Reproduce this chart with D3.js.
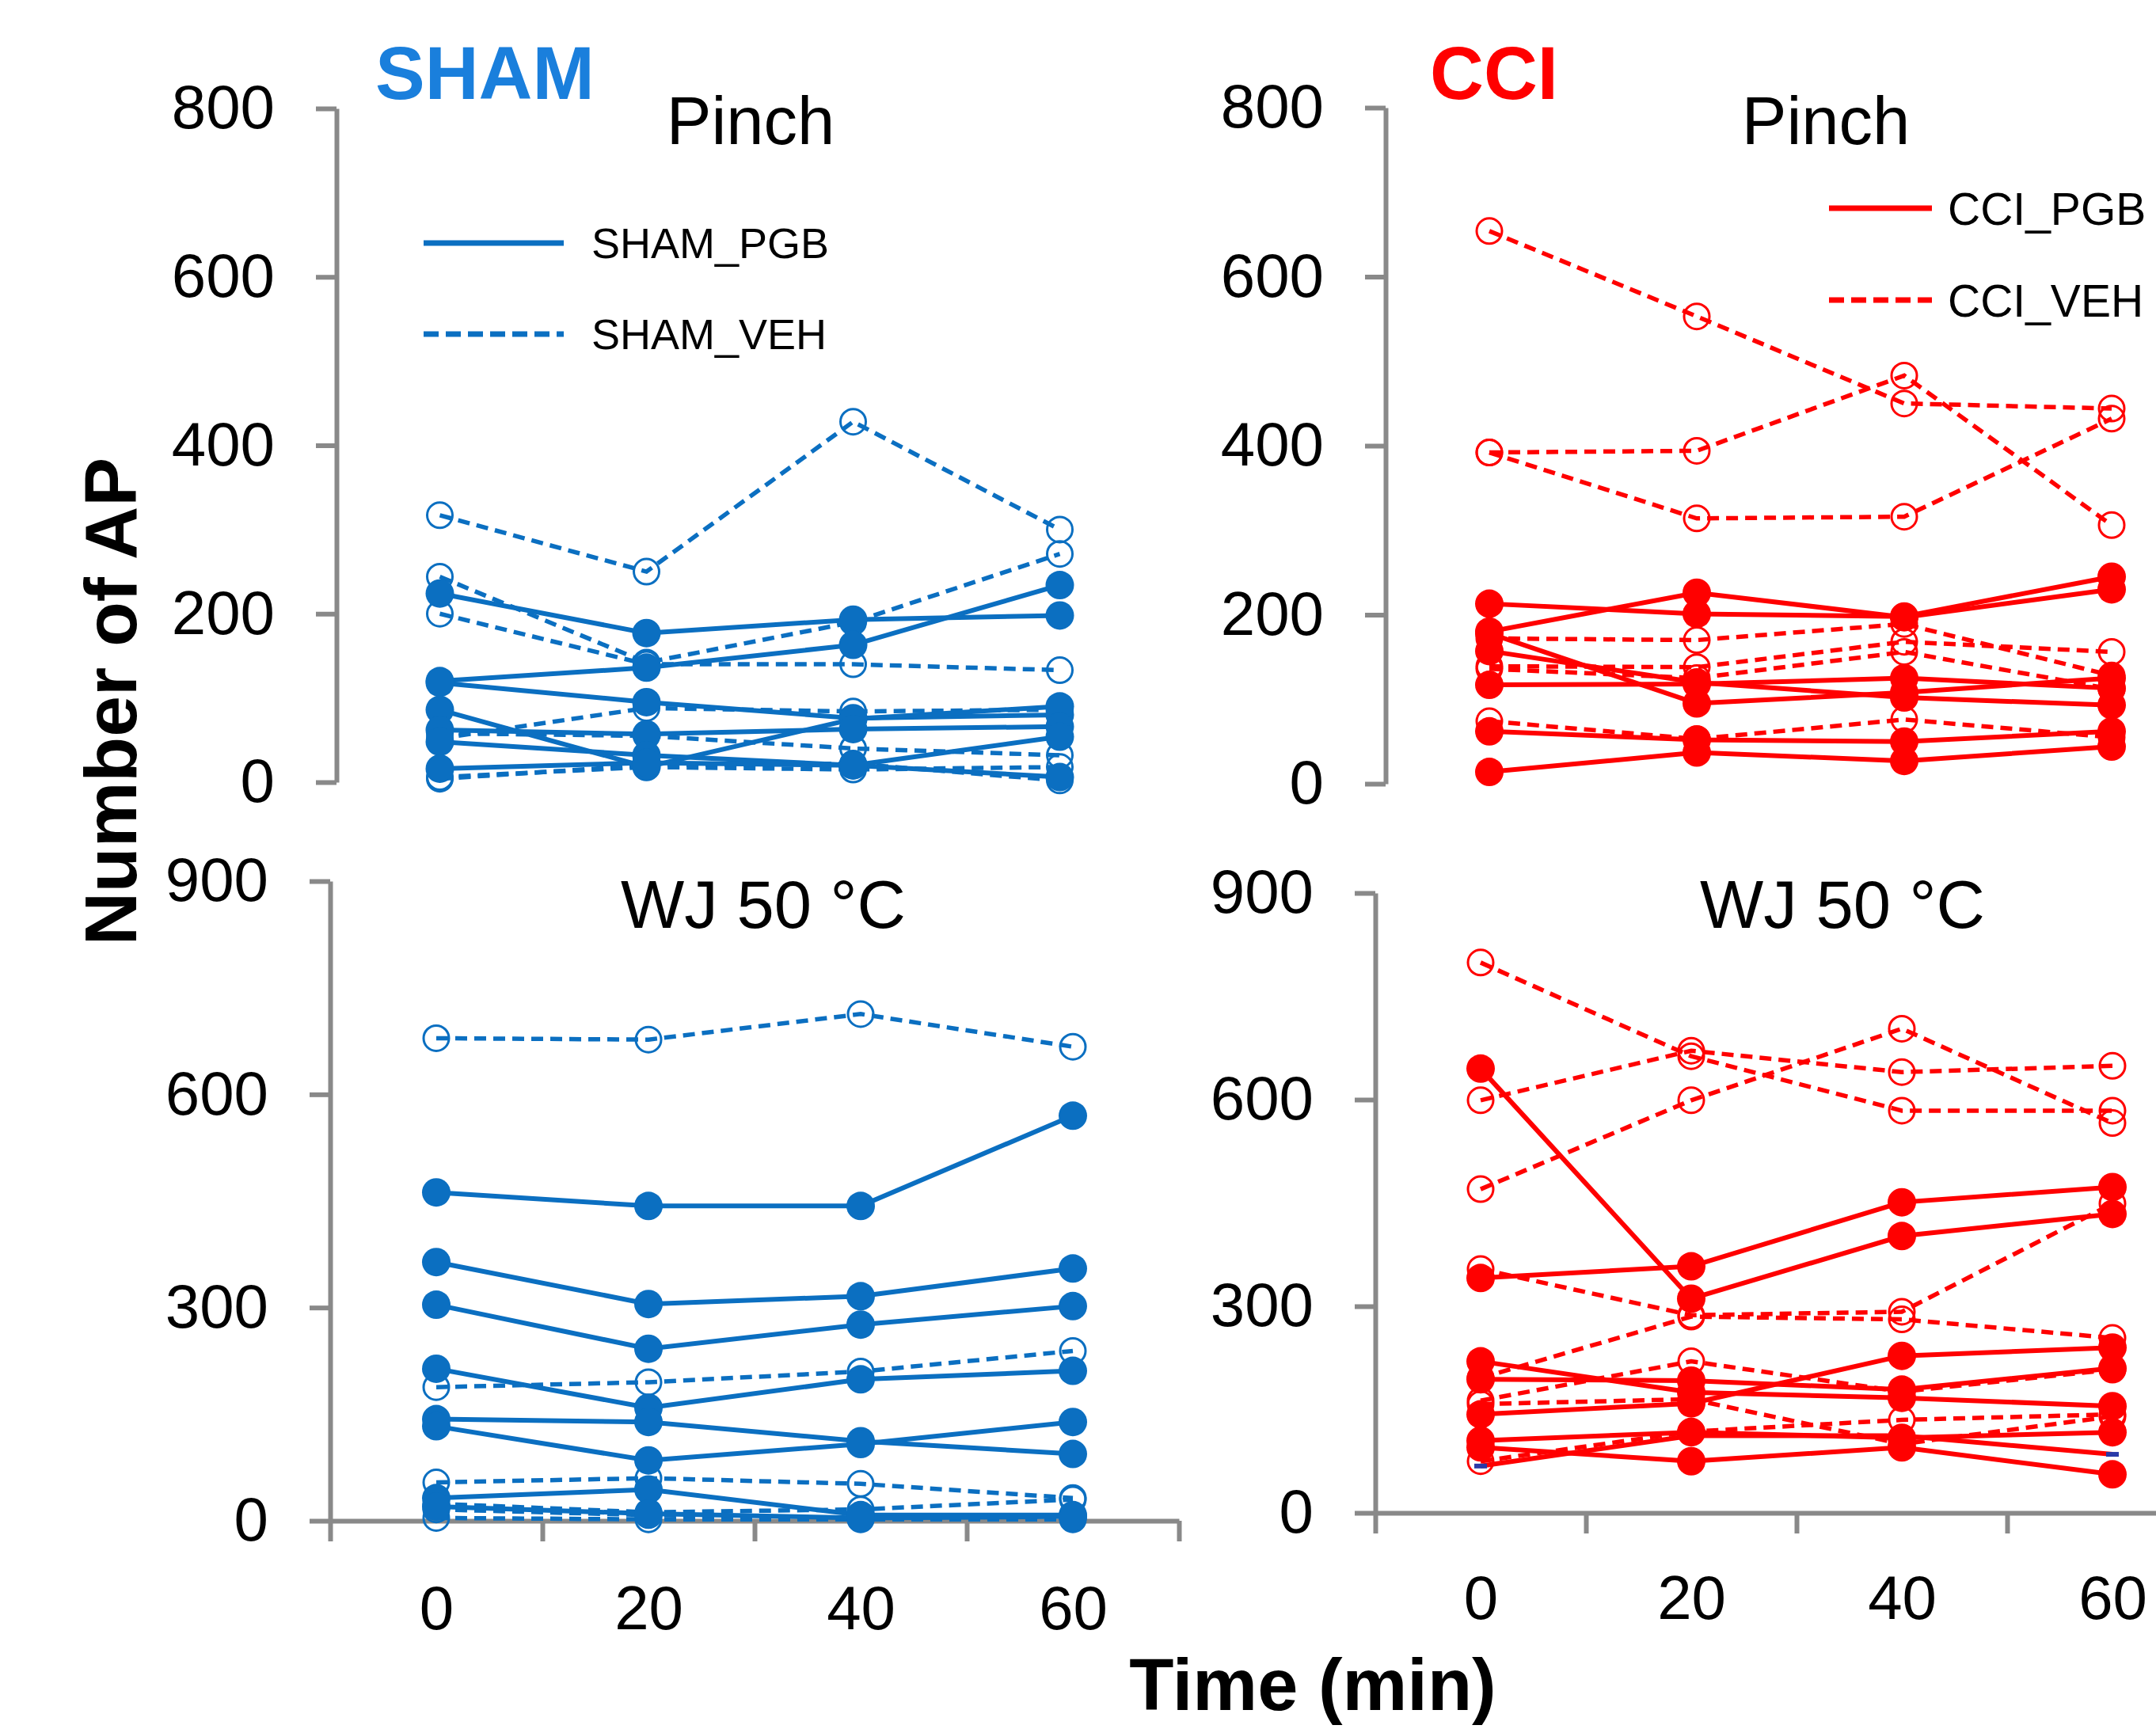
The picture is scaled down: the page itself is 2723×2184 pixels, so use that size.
<!DOCTYPE html>
<html>
<head>
<meta charset="utf-8">
<script src="https://cdn.jsdelivr.net/npm/d3@7"></script>
<style>
  body { margin: 0; background: #ffffff; }
  svg { display: block; }
</style>
</head>
<body>
<svg id="chart"></svg>
<script>
// ===========================================================
// DATA (Number of AP per time point)
// ===========================================================
const times = [0, 20, 40, 60];
const pinchTicks = [0, 200, 400, 600, 800];
const wjTicks = [0, 300, 600, 900];

const shamPinchPGB = [
    [224, 177, 193, 198],
    [120, 136, 163, 234],
    [118, 95, 76, 80],
    [86, 18, 75, 90],
    [62, 57, 63, 66],
    [48, 32, 20, 6],
    [16, 23, 20, 54]
];
const shamPinchVEH = [
    [317, 250, 428, 300],
    [244, 142, 190, 271],
    [200, 140, 140, 133],
    [52, 88, 84, 86],
    [58, 55, 40, 32],
    [6, 18, 15, 18],
    [4, 20, 22, 2]
];

const cciPinchPGB = [
    [213, 201, 198, 245],
    [180, 226, 197, 230],
    [178, 95, 108, 125],
    [157, 120, 102, 93],
    [117, 118, 125, 113],
    [62, 52, 50, 62],
    [14, 37, 27, 44]
];
const cciPinchVEH = [
    [654, 553, 450, 444],
    [392, 394, 483, 306],
    [392, 314, 316, 432],
    [172, 170, 189, 128],
    [139, 138, 168, 156],
    [136, 125, 156, 112],
    [74, 53, 76, 55]
];

const shamWjPGB = [
    [462, 443, 443, 570],
    [364, 305, 316, 355],
    [304, 242, 276, 302],
    [214, 159, 199, 211],
    [143, 139, 112, 94],
    [133, 85, 108, 139],
    [32, 44, 8, 8],
    [20, 10, 4, 6]
];
const shamWjVEH = [
    [679, 677, 713, 667],
    [188, 195, 210, 239],
    [54, 60, 52, 32],
    [24, 12, 16, 30],
    [16, 8, 4, 4],
    [4, 2, 2, 2]
];

const cciWjPGB = [
    [645, 311, 402, 434],
    [341, 358, 451, 473],
    [220, 175, 167, 155],
    [194, 192, 179, 210],
    [143, 159, 228, 240],
    [105, 117, 109, 117],
    [95, 75, 95, 56]
];
// one series in this panel has no circle markers (only tiny dark marks)
const cciWjUnmarked = [
    [68, 112, 112, 85]
];
const cciWjVEH = [
    [799, 663, 584, 584],
    [599, 671, 640, 649],
    [470, 599, 703, 566],
    [354, 287, 292, 449],
    [196, 285, 281, 254],
    [163, 220, 176, 208],
    [158, 165, 100, 140],
    [75, 118, 135, 143]
];

// ===========================================================
// STYLE
// ===========================================================
const W = 2723;
const H = 2184;
const blue = "#0b6fc1";
const titleBlue = "#1a7fdc";
const red = "#ff0000";
const axisGrey = "#898989";
const textFont = "'Liberation Sans', Arial, sans-serif";

const svg = d3.select("#chart")
    .attr("width", W)
    .attr("height", H)
    .style("background", "#ffffff");


function drawPanel(p) {
    const g = svg.append("g");

    const y = d3.scaleLinear()
        .domain([0, p.yMax])
        .range([p.yZero, p.yTop]);

    const xBand = d3.scaleBand()
        .domain(times)
        .range([p.axisX, p.axisX + 4 * p.step]);
    const xc = t => xBand(t) + xBand.bandwidth() / 2;

    // ---- y axis
    const yAxis = g.append("g")
        .attr("transform", `translate(${p.axisX},0)`)
        .call(d3.axisLeft(y).tickValues(p.ticks).tickSize(26).tickSizeOuter(0).tickPadding(52))
        .attr("font-family", textFont)
        .attr("font-size", 78);
    yAxis.select(".domain").attr("stroke", axisGrey).attr("stroke-width", 6);
    yAxis.selectAll(".tick line").attr("stroke", axisGrey).attr("stroke-width", 6);
    yAxis.selectAll(".tick text").attr("fill", "#000");

    // ---- x axis (bottom panels only)
    if (p.xAxis) {
        const xEdge = d3.scaleLinear().domain([0, 4]).range(xBand.range());
        const xAxis = g.append("g")
            .attr("transform", `translate(0,${p.yZero})`)
            .call(d3.axisBottom(xEdge).tickValues([0, 1, 2, 3, 4]).tickSize(26)
                .tickSizeOuter(0).tickFormat(""));
        xAxis.select(".domain").attr("stroke", axisGrey).attr("stroke-width", 6);
        xAxis.selectAll(".tick line").attr("stroke", axisGrey).attr("stroke-width", 6);

        const xPoint = d3.scalePoint().domain(times).range(xBand.range()).padding(0.5);
        const xLabels = g.append("g")
            .attr("transform", `translate(0,${p.yZero})`)
            .call(d3.axisBottom(xPoint).tickSize(0).tickPadding(p.labelPad))
            .attr("font-family", textFont)
            .attr("font-size", 78);
        xLabels.select(".domain").remove();
        xLabels.selectAll(".tick text").attr("fill", "#000");
    }

    const line = d3.line()
        .x((d, i) => xc(times[i]))
        .y(d => y(d));

    // ---- vehicle series (dashed, open circles)
    p.veh.forEach(series => {
        g.append("path")
            .datum(series)
            .attr("d", line)
            .attr("fill", "none")
            .attr("stroke", p.color)
            .attr("stroke-width", 5.5)
            .attr("stroke-dasharray", "15,9");
        g.selectAll(null)
            .data(series)
            .join("circle")
            .attr("cx", (d, i) => xc(times[i]))
            .attr("cy", d => y(d))
            .attr("r", 16)
            .attr("fill", "none")
            .attr("stroke", p.color)
            .attr("stroke-width", 3);
    });

    // ---- unmarked series
    (p.unmarked || []).forEach(series => {
        g.append("path")
            .datum(series)
            .attr("d", line)
            .attr("fill", "none")
            .attr("stroke", p.color)
            .attr("stroke-width", 6);
        g.selectAll(null)
            .data([series[0], series[series.length - 1]])
            .join("rect")
            .attr("x", (d, i) => xc(times[i === 0 ? 0 : times.length - 1]) - 8)
            .attr("y", d => y(d) - 3)
            .attr("width", 16)
            .attr("height", 6)
            .attr("fill", "#2a3aa8");
    });

    // ---- pregabalin series (solid, filled circles)
    p.pgb.forEach(series => {
        g.append("path")
            .datum(series)
            .attr("d", line)
            .attr("fill", "none")
            .attr("stroke", p.color)
            .attr("stroke-width", 6);
        g.selectAll(null)
            .data(series)
            .join("circle")
            .attr("cx", (d, i) => xc(times[i]))
            .attr("cy", d => y(d))
            .attr("r", 18)
            .attr("fill", p.color);
    });

    // ---- panel subtitle
    g.append("text")
        .attr("x", p.subX)
        .attr("y", p.subY)
        .attr("text-anchor", "middle")
        .attr("font-family", textFont)
        .attr("font-size", 85)
        .attr("fill", "#000")
        .text(p.subtitle);
}


function drawLegend(x0, x1, yTop, yBottom, textX, fontSize, color, labels) {
    const g = svg.append("g");
    g.append("line")
        .attr("x1", x0).attr("x2", x1)
        .attr("y1", yTop).attr("y2", yTop)
        .attr("stroke", color).attr("stroke-width", 7);
    g.append("line")
        .attr("x1", x0).attr("x2", x1)
        .attr("y1", yBottom).attr("y2", yBottom)
        .attr("stroke", color).attr("stroke-width", 7)
        .attr("stroke-dasharray", "19,9");
    g.selectAll("text")
        .data(labels)
        .join("text")
        .attr("x", textX)
        .attr("y", (d, i) => (i === 0 ? yTop : yBottom) + fontSize * 0.36)
        .attr("font-family", textFont)
        .attr("font-size", fontSize)
        .attr("fill", "#000")
        .text(d => d);
}


// ===========================================================
// PANELS
// ===========================================================
drawPanel({
    axisX: 425, step: 261, yTop: 137, yZero: 988, yMax: 800, ticks: pinchTicks,
    xAxis: false, color: blue, pgb: shamPinchPGB, veh: shamPinchVEH,
    subtitle: "Pinch", subX: 948, subY: 182
});
drawPanel({
    axisX: 1750, step: 262, yTop: 136, yZero: 990, yMax: 800, ticks: pinchTicks,
    xAxis: false, color: red, pgb: cciPinchPGB, veh: cciPinchVEH,
    subtitle: "Pinch", subX: 2306, subY: 182
});
drawPanel({
    axisX: 417, step: 268, yTop: 1113, yZero: 1921, yMax: 900, ticks: wjTicks,
    xAxis: true, labelPad: 82, color: blue, pgb: shamWjPGB, veh: shamWjVEH,
    subtitle: "WJ 50 °C", subX: 964, subY: 1172
});
drawPanel({
    axisX: 1737, step: 266, yTop: 1128, yZero: 1911, yMax: 900, ticks: wjTicks,
    xAxis: true, labelPad: 79, color: red, pgb: cciWjPGB, veh: cciWjVEH,
    unmarked: cciWjUnmarked,
    subtitle: "WJ 50 °C", subX: 2327, subY: 1172
});

drawLegend(535, 712, 307, 422, 747, 54, blue, ["SHAM_PGB", "SHAM_VEH"]);
drawLegend(2310, 2440, 263, 379, 2460, 57, red, ["CCI_PGB", "CCI_VEH"]);

// ===========================================================
// TITLES
// ===========================================================
svg.append("text")
    .attr("x", 474).attr("y", 125)
    .attr("font-family", textFont).attr("font-weight", "bold")
    .attr("font-size", 94).attr("fill", titleBlue)
    .text("SHAM");

svg.append("text")
    .attr("x", 1806).attr("y", 125)
    .attr("font-family", textFont).attr("font-weight", "bold")
    .attr("font-size", 94).attr("fill", red)
    .text("CCI");

svg.append("text")
    .attr("transform", "translate(172,886) rotate(-90)")
    .attr("text-anchor", "middle")
    .attr("font-family", textFont).attr("font-weight", "bold")
    .attr("font-size", 93).attr("fill", "#000")
    .text("Number of AP");

svg.append("text")
    .attr("x", 1658).attr("y", 2160)
    .attr("text-anchor", "middle")
    .attr("font-family", textFont).attr("font-weight", "bold")
    .attr("font-size", 92).attr("fill", "#000")
    .text("Time (min)");
</script>
</body>
</html>
